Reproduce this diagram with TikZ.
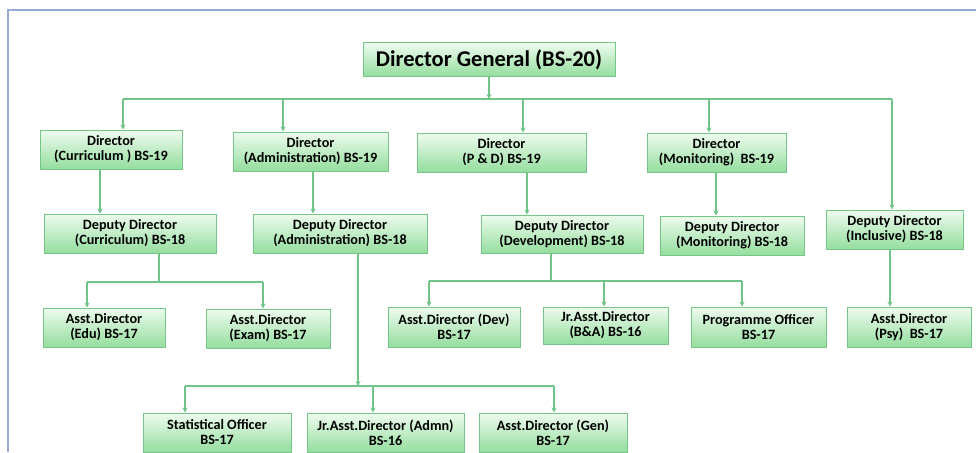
\documentclass[tikz,border=0pt]{standalone}
\usepackage{fontspec}
\setmainfont{Carlito}
\usetikzlibrary{arrows.meta}

\definecolor{boxtop}{RGB}{238,251,238}
\definecolor{boxbot}{RGB}{148,222,158}
\definecolor{boxline}{RGB}{118,198,138}
\definecolor{linkcol}{RGB}{112,196,136}
\definecolor{framecol}{RGB}{150,170,212}

\tikzset{
  box/.style={rectangle, draw=boxline, line width=1pt, top color=boxtop,
    bottom color=boxbot, align=center, inner sep=0pt,
    font=\bfseries\fontsize{14.2}{15}\selectfont},
  link/.style={draw=linkcol, line width=1.1pt},
  arrow/.style={link, -{Stealth[length=5pt,width=5pt]}}
}

\begin{document}
\begin{tikzpicture}[x=1pt,y=-1pt]

      \useasboundingbox (0,0) rectangle (976,452);
      \draw[framecol, line width=2pt] (8,452) -- (8,10) -- (976,10);

      % top
      \node[box, minimum width=252pt, minimum height=33pt,
        font=\bfseries\fontsize{22.5}{26}\selectfont] (dg) at (489,59.5) {Director General (BS-20)};

      % directors
      \node[box, minimum width=142pt, minimum height=39pt] (dcur) at (111,149.5) {Director\\(Curriculum ) BS-19};
      \node[box, minimum width=155pt, minimum height=39pt] (dadm) at (310.5,151.5) {Director\\(Administration) BS-19};
      \node[box, minimum width=169pt, minimum height=39pt] (dpd)  at (501.5,152.5) {Director\\(P \& D) BS-19};
      \node[box, minimum width=139pt, minimum height=39pt] (dmon) at (716.5,152.5) {Director\\(Monitoring)\ \ BS-19};

      % deputy directors
      \node[box, minimum width=172pt, minimum height=39pt] (ddcur) at (130,233.5) {Deputy Director\\(Curriculum) BS-18};
      \node[box, minimum width=174pt, minimum height=39pt] (ddadm) at (340,233.5) {Deputy Director\\(Administration) BS-18};
      \node[box, minimum width=162pt, minimum height=38pt] (dddev) at (562,234) {Deputy Director\\(Development) BS-18};
      \node[box, minimum width=144pt, minimum height=39pt] (ddmon) at (732,235.5) {Deputy Director\\(Monitoring) BS-18};
      \node[box, minimum width=137pt, minimum height=39pt] (ddinc) at (894.5,229.5) {Deputy Director\\(Inclusive) BS-18};

      % assistant directors
      \node[box, minimum width=122pt, minimum height=39pt] (adedu)   at (104,327.5) {Asst.Director\\(Edu) BS-17};
      \node[box, minimum width=124pt, minimum height=39pt] (adexam)  at (268,328.5) {Asst.Director\\(Exam) BS-17};
      \node[box, minimum width=132pt, minimum height=40pt] (addev)   at (454,327) {Asst.Director (Dev)\\BS-17};
      \node[box, minimum width=125pt, minimum height=37pt] (jrba)    at (605.5,325.5) {Jr.Asst.Director\\(B\&A) BS-16};
      \node[box, minimum width=135pt, minimum height=40pt] (progoff) at (758.5,327) {Programme Officer\\BS-17};
      \node[box, minimum width=124pt, minimum height=40pt] (adpsy)   at (909,327) {Asst.Director\\(Psy)\ \ BS-17};

      % admin staff
      \node[box, minimum width=148pt, minimum height=39pt] (statoff) at (217,432.5) {Statistical Officer\\BS-17};
      \node[box, minimum width=157pt, minimum height=39pt] (jradm)   at (385.5,432.5) {Jr.Asst.Director (Admn)\\BS-16};
      \node[box, minimum width=148pt, minimum height=39pt] (adgen)   at (553,432.5) {Asst.Director (Gen)\\BS-17};

      % bus below the director general
      \coordinate (busL) at (123,99);
      \coordinate (busR) at (892,99);
      \coordinate (tadm) at (283,99);
      \coordinate (tpd)  at (523,99);
      \coordinate (tmon) at (709,99);
      \draw[arrow] (dg) -- (dg |- busL);
      \draw[link] (busL) -- (busR);
      \draw[arrow] (busL) -- (busL |- dcur.north);
      \draw[arrow] (tadm) -- (tadm |- dadm.north);
      \draw[arrow] (tpd)  -- (tpd |- dpd.north);
      \draw[arrow] (tmon) -- (tmon |- dmon.north);
      \draw[arrow] (busR) -- (busR |- ddinc.north);

      % directors to deputies
      \coordinate (vcur) at (100,0);
      \coordinate (vadm) at (313,0);
      \coordinate (vpd)  at (527,0);
      \coordinate (vmon) at (716,0);
      \draw[arrow] (vcur |- dcur.south) -- (vcur |- ddcur.north);
      \draw[arrow] (vadm |- dadm.south) -- (vadm |- ddadm.north);
      \draw[arrow] (vpd |- dpd.south)   -- (vpd |- dddev.north);
      \draw[arrow] (vmon |- dmon.south) -- (vmon |- ddmon.north);

      % curriculum group
      \coordinate (jcur) at (159,282);
      \coordinate (jcurL) at (87,282);
      \coordinate (jcurR) at (263,282);
      \draw[link] (jcur |- ddcur.south) -- (jcur);
      \draw[link] (jcurL) -- (jcurR);
      \draw[arrow] (jcurL) -- (jcurL |- adedu.north);
      \draw[arrow] (jcurR) -- (jcurR |- adexam.north);

      % development group
      \coordinate (jdev) at (551,281);
      \coordinate (jdevL) at (429,281);
      \coordinate (jdevM) at (604,281);
      \coordinate (jdevR) at (742,281);
      \draw[link] (jdev |- dddev.south) -- (jdev);
      \draw[link] (jdevL) -- (jdevR);
      \draw[arrow] (jdevL) -- (jdevL |- addev.north);
      \draw[arrow] (jdevM) -- (jdevM |- jrba.north);
      \draw[arrow] (jdevR) -- (jdevR |- progoff.north);

      % administration group
      \coordinate (jadm) at (358,386);
      \coordinate (jadmL) at (185,386);
      \coordinate (jadmM) at (373,386);
      \coordinate (jadmR) at (554,386);
      \draw[arrow] (jadm |- ddadm.south) -- (jadm);
      \draw[link] (jadmL) -- (jadmR);
      \draw[arrow] (jadmL) -- (jadmL |- statoff.north);
      \draw[arrow] (jadmM) -- (jadmM |- jradm.north);
      \draw[arrow] (jadmR) -- (jadmR |- adgen.north);

      % inclusive
      \coordinate (vinc) at (890,0);
      \draw[arrow] (vinc |- ddinc.south) -- (vinc |- adpsy.north);

    \end{tikzpicture}
\end{document}
